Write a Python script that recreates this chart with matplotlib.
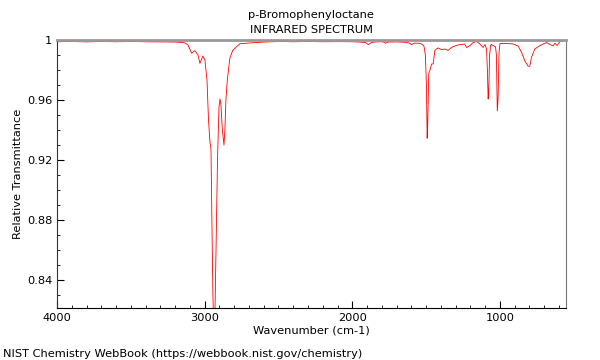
import matplotlib
matplotlib.use("Agg")
import matplotlib.pyplot as plt
from matplotlib.ticker import MultipleLocator, FuncFormatter

# spectrum (wavenumber cm-1, relative transmittance)
wavenumber = [4000, 3900, 3800, 3700, 3600, 3500, 3400, 3300, 3200, 3150,
              3133, 3113, 3088, 3066, 3045, 3032, 3012, 2998, 2984, 2974,
              2964, 2957, 2951, 2944, 2937, 2930, 2923, 2913, 2903, 2896,
              2890, 2880, 2869, 2863, 2856, 2847, 2829, 2810, 2783, 2761,
              2693, 2600, 2490, 2400, 2300, 2200, 2100, 2000, 1950, 1910,
              1892, 1875, 1850, 1800, 1785, 1775, 1760, 1700, 1650, 1615,
              1598, 1585, 1576, 1550, 1531, 1515, 1505, 1498, 1493, 1489,
              1482, 1475, 1463, 1452, 1441, 1430, 1418, 1395, 1373, 1351,
              1328, 1305, 1283, 1260, 1238, 1226, 1204, 1181, 1158, 1136,
              1114, 1102, 1091, 1085, 1080, 1076, 1070, 1063, 1057, 1041,
              1030, 1024, 1018, 1013, 1006, 1000, 980, 955, 930, 911,
              877, 854, 831, 809, 798, 786, 764, 730, 685, 662,
              640, 628, 613, 594, 572, 554]
transmittance = [0.9988, 0.9990, 0.9987, 0.9990, 0.9988, 0.9990, 0.9988, 0.9987, 0.9986, 0.9983,
                 0.9980, 0.9967, 0.9911, 0.9929, 0.9900, 0.9844, 0.9893, 0.9867, 0.9730, 0.9470,
                 0.9320, 0.9270, 0.8800, 0.8300, 0.8000, 0.8200, 0.8600, 0.9200, 0.9550, 0.9607,
                 0.9570, 0.9400, 0.9300, 0.9400, 0.9600, 0.9730, 0.9880, 0.9930, 0.9956, 0.9975,
                 0.9980, 0.9986, 0.9990, 0.9988, 0.9990, 0.9988, 0.9989, 0.9988, 0.9986, 0.9983,
                 0.9969, 0.9980, 0.9987, 0.9988, 0.9985, 0.9978, 0.9986, 0.9987, 0.9985, 0.9980,
                 0.9969, 0.9977, 0.9979, 0.9978, 0.9973, 0.9960, 0.9900, 0.9700, 0.9345, 0.9450,
                 0.9780, 0.9795, 0.9840, 0.9840, 0.9930, 0.9940, 0.9947, 0.9935, 0.9940, 0.9930,
                 0.9950, 0.9960, 0.9967, 0.9970, 0.9973, 0.9950, 0.9962, 0.9983, 0.9990, 0.9973,
                 0.9950, 0.9970, 0.9940, 0.9800, 0.9607, 0.9650, 0.9900, 0.9965, 0.9970, 0.9960,
                 0.9955, 0.9900, 0.9527, 0.9600, 0.9920, 0.9976, 0.9977, 0.9976, 0.9975, 0.9973,
                 0.9960, 0.9918, 0.9860, 0.9825, 0.9825, 0.9885, 0.9940, 0.9962, 0.9983, 0.9970,
                 0.9960, 0.9978, 0.9963, 0.9988, 0.9995, 0.9996]

title_lines = ["p-Bromophenyloctane", "INFRARED SPECTRUM"]
x_ticks = [4000, 3000, 2000, 1000]
y_ticks = [0.84, 0.88, 0.92, 0.96, 1.0]

fig = plt.figure(figsize=(6, 3.6), dpi=100)
ax = fig.add_axes([0.095, 0.144, 0.848, 0.745])

ax.plot(wavenumber, transmittance, color="red", lw=0.6)
ax.set_xlim(4000, 554)
ax.set_ylim(0.8213, 1.0)

ax.set_xticks(x_ticks)
ax.xaxis.set_minor_locator(MultipleLocator(100))
ax.set_yticks(y_ticks)
ax.yaxis.set_minor_locator(MultipleLocator(0.01))
ax.yaxis.set_major_formatter(FuncFormatter(lambda v, p: f"{v:g}"))
ax.tick_params(which="both", direction="in", top=False, right=False, labelsize=8.2)
ax.tick_params(which="major", length=5)
ax.tick_params(which="minor", length=2.5)

ax.spines["top"].set_color("#999999")
ax.spines["top"].set_linewidth(2)
ax.spines["right"].set_color("#777777")
ax.spines["left"].set_color("#333333")

ax.set_xlabel("Wavenumber (cm-1)", fontsize=8.2, labelpad=2)
ax.set_ylabel("Relative Transmittance", fontsize=8.2, labelpad=3)
ax.set_title("\n".join(title_lines), fontsize=8.2, pad=5, linespacing=1.65)

fig.text(0.005, 0.008, "NIST Chemistry WebBook (https://webbook.nist.gov/chemistry)", fontsize=8.2)

fig.savefig("out.png", dpi=100)
